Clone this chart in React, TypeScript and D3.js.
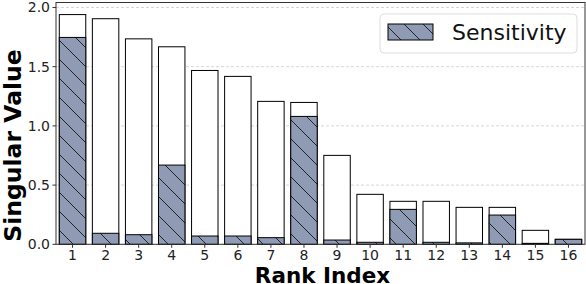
import React from "react";
import * as d3 from "d3";

const ranks = [1, 2, 3, 4, 5, 6, 7, 8, 9, 10, 11, 12, 13, 14, 15, 16];
const singularValues = [1.94, 1.905, 1.735, 1.668, 1.468, 1.418, 1.207, 1.198, 0.751, 0.422, 0.363, 0.363, 0.312, 0.312, 0.118, 0.042];
const sensitivity = [1.747, 0.093, 0.081, 0.669, 0.07, 0.07, 0.056, 1.08, 0.036, 0.017, 0.295, 0.017, 0.012, 0.247, 0.008, 0.042];
const yTicks = [0, 0.5, 1.0, 1.5, 2.0];
const legendLabel = "Sensitivity";

const W = 586;
const H = 284;
const left = 56;
const right = 585;
const top = 2.5;
const bottom = 244.3;

export default function App() {
  const x = d3.scaleLinear().domain([0.5, 16.5]).range([left, right]);
  const y = d3.scaleLinear().domain([0, 2.042]).range([bottom, top]);
  const bw = (x(2) - x(1)) * 0.8;
  const fill = "#8f9bb4";
  const font = "DejaVu Sans, sans-serif";
  return (
    <svg width={W} height={H} style={{ position: "absolute", left: 0, top: 0 }}>
      <defs>
        <pattern id="hatch" patternUnits="userSpaceOnUse" width={19} height={19}>
          <line x1={0} y1={0} x2={19} y2={19} stroke="#222" strokeWidth={1} />
          <line x1={-1} y1={18} x2={1} y2={20} stroke="#222" strokeWidth={1} />
          <line x1={18} y1={-1} x2={20} y2={1} stroke="#222" strokeWidth={1} />
        </pattern>
      </defs>
      <rect x={0} y={0} width={W} height={H} fill="#fff" />
      {yTicks.map((t) => (
        <line key={"g" + t} x1={left} x2={right} y1={y(t)} y2={y(t)} stroke="#ccc" strokeWidth={0.8} strokeDasharray="3,2" />
      ))}
      {ranks.map((r, i) => (
        <rect key={"s" + r} x={x(r) - bw / 2} y={y(singularValues[i])} width={bw} height={y(0) - y(singularValues[i])} fill="#fff" stroke="#000" strokeWidth={1} />
      ))}
      {ranks.map((r, i) => (
        <g key={"h" + r}>
          <rect x={x(r) - bw / 2} y={y(sensitivity[i])} width={bw} height={y(0) - y(sensitivity[i])} fill={fill} />
          <rect x={x(r) - bw / 2} y={y(sensitivity[i])} width={bw} height={y(0) - y(sensitivity[i])} fill="url(#hatch)" stroke="#000" strokeWidth={1} />
        </g>
      ))}
      <rect x={left} y={top} width={right - left} height={bottom - top} fill="none" stroke="#333" strokeWidth={1} />
      {yTicks.map((t) => (
        <g key={"yt" + t}>
          <line x1={left - 3.5} x2={left} y1={y(t)} y2={y(t)} stroke="#333" />
          <text x={left - 6} y={y(t)} dy="0.35em" textAnchor="end" fontFamily={font} fontSize={14} fill="#222">{t.toFixed(1)}</text>
        </g>
      ))}
      {ranks.map((r) => (
        <g key={"xt" + r}>
          <line x1={x(r)} x2={x(r)} y1={bottom} y2={bottom + 3.5} stroke="#333" />
          <text x={x(r)} y={bottom + 16} textAnchor="middle" fontFamily={font} fontSize={14} fill="#222">{r}</text>
        </g>
      ))}
      <text x={(left + right) / 2 + 2} y={282.5} textAnchor="middle" fontFamily={font} fontWeight="bold" fontSize={21.5}>Rank Index</text>
      <text transform={`translate(21,145.5) rotate(-90)`} textAnchor="middle" fontFamily={font} fontWeight="bold" fontSize={23.5}>Singular Value</text>
      <rect x={380} y={14} width={197} height={39} rx={4} fill="#fff" fillOpacity={0.8} stroke="#ddd" strokeWidth={1} />
      <rect x={388} y={24} width={45} height={16} fill={fill} />
      <rect x={388} y={24} width={45} height={16} fill="url(#hatch)" stroke="#000" strokeWidth={1} />
      <text x={452} y={40} fontFamily={font} fontSize={22} fill="#111">{legendLabel}</text>
    </svg>
  );
}
